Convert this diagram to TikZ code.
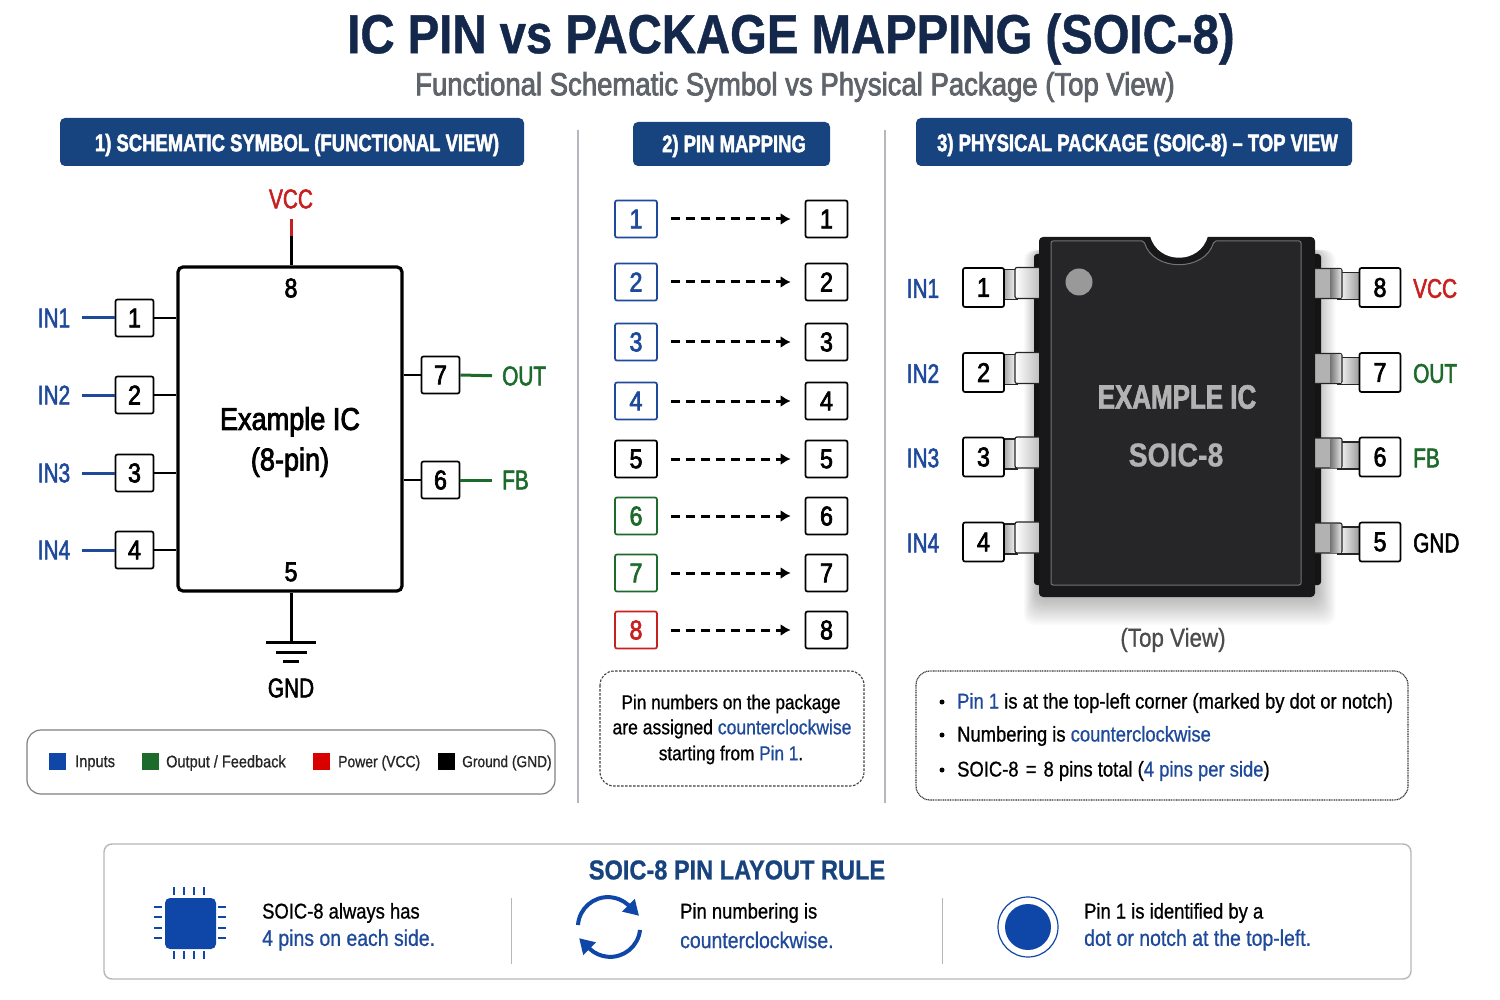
\documentclass[tikz,border=0pt]{standalone}
\usepackage{fontspec}
\setmainfont[FakeStretch=0.86,FakeBold=0.8]{Liberation Sans}
\newfontfamily\narrowf[FakeStretch=0.77,FakeBold=2]{Liberation Sans}
\newfontfamily\medf[FakeStretch=0.86,FakeBold=2.5]{Liberation Sans}
\usetikzlibrary{arrows.meta}
\definecolor{navy}{HTML}{14284B}
\definecolor{barblue}{HTML}{17437E}
\definecolor{subgray}{HTML}{5F646B}
\definecolor{inblue}{HTML}{1F4A9C}
\definecolor{iconblue}{HTML}{0F47A8}
\definecolor{outgreen}{HTML}{1D6B2B}
\definecolor{pwrred}{HTML}{C8201F}
\definecolor{rulegray}{HTML}{B4B8BC}
\definecolor{bodydark}{HTML}{18181A}
\definecolor{bodyface}{HTML}{262628}
\newcommand{\fs}[1]{\fontsize{#1}{#1}\selectfont}
\tikzset{
  txt/.style={inner sep=0pt, font=\fs{#1}},
  txt/.default=20,
  lbl/.style={inner sep=0pt, font=\narrowf\fs{#1}},
  lbl/.default=27,
  headbar/.style={fill=barblue, rounded corners=5pt, inner sep=0pt, minimum height=44pt},
  headtxt/.style={inner sep=0pt, text=white, font=\narrowf\fs{24}\bfseries},
  pinbox/.style={draw=black, line width=1.7pt, fill=white, rounded corners=2pt, minimum width=38pt, minimum height=37pt, inner sep=0pt, font=\medf\fs{27}},
  mapbox/.style={pinbox, minimum width=42pt, minimum height=37pt},
  lead/.style={line width=2pt, black},
  wire/.style={line width=3pt, #1},
  maparrow/.style={line width=3pt, black, dash pattern=on 9pt off 6pt, -{Latex[length=10pt,width=12pt]}},
  notebox/.style={rounded corners=14pt, line width=1pt},
  metal/.style={draw=black!85, line width=1.2pt},
  rule/.style={rulegray, line width=1.2pt}
}
\begin{document}
\begin{tikzpicture}[x=1pt,y=-1pt]
  \useasboundingbox (0,0) rectangle (1500,1000);
  \fill[white] (0,0) rectangle (1500,1000);
  % Titel
  \node[inner sep=0pt, text=navy, font=\fs{55}\bfseries] (title) at (791,39) {IC PIN vs PACKAGE MAPPING (SOIC-8)};
  \node[inner sep=0pt, text=subgray, font=\medf\fs{32}] (subtitle) at (795,87) {Functional Schematic Symbol vs Physical Package (Top View)};
  % Kopfzeilen
  \node[headbar, minimum width=464pt, minimum height=48pt] (head1) at (292,142) {};
  \node[headtxt] (head1txt) at (297,145) {1) SCHEMATIC SYMBOL (FUNCTIONAL VIEW)};
  \node[headbar, minimum width=197pt] (head2) at (731.5,144) {};
  \node[headtxt] (head2txt) at (734,146) {2) PIN MAPPING};
  \node[headbar, minimum width=436pt, minimum height=48pt] (head3) at (1134,142) {};
  \node[headtxt] (head3txt) at (1137.5,145) {3) PHYSICAL PACKAGE (SOIC-8) – TOP VIEW};
  \coordinate (div1a) at (578,130); \coordinate (div1b) at (578,803);
  \coordinate (div2a) at (885,130); \coordinate (div2b) at (885,803);
  \draw[rule] (div1a) -- (div1b);
  \draw[rule] (div2a) -- (div2b);

  % Schaltsymbol
  \node[draw=black, line width=3.2pt, rounded corners=5pt, minimum width=224pt, minimum height=324pt] (ic) at (290,429) {};
  \node[inner sep=0pt, align=center, font=\medf\fs{31.5}] (icname) at (290,442) {Example IC\\[9pt](8-pin)};
  \node[inner sep=0pt, font=\medf\fs{27}] (top8) at (291,288) {8};
  \node[inner sep=0pt, font=\medf\fs{27}] (bot5) at (291,572) {5};
  \foreach \n/\yy in {1/318,2/395,3/473,4/550} {
    \node[pinbox] (s\n) at (134.5,\yy) {\n};
    \node[lbl, text=inblue] (in\n) at (54,\yy) {IN\n};
    \draw[wire=inblue, shorten <=12pt] (in\n.east) -- (s\n.west);
    \draw[lead] (s\n.east) -- (s\n.east -| ic.west);
  }
  \node[pinbox] (s7) at (440.5,375) {7};
  \node[pinbox] (s6) at (440.5,480) {6};
  \node[lbl, text=outgreen, anchor=west] (lout) at (502,376) {OUT};
  \node[lbl, text=outgreen, anchor=west] (lfb) at (502,480) {FB};
  \draw[lead] (s7.west) -- (s7.west -| ic.east);
  \draw[lead] (s6.west) -- (s6.west -| ic.east);
  \draw[wire=outgreen, shorten >=10pt] (s7.east) -- (lout.west);
  \draw[wire=outgreen, shorten >=10pt] (s6.east) -- (lfb.west);
  \node[lbl, text=pwrred] (lvcc) at (291,199) {VCC};
  \coordinate (vccmid) at (291,236);
  \coordinate (vcctop) at (291,219);
  \draw[wire=pwrred] (vcctop) -- (vccmid);
  \draw[wire=black] (vccmid) -- (ic.north -| vccmid);
  % Masse
  \coordinate (gnd1) at (291,642);
  \draw[wire=black] (ic.south -| gnd1) -- (gnd1);
  \draw[line width=3pt] (266,642) -- (316,642);
  \draw[line width=3pt] (276,652) -- (307,652);
  \draw[line width=3pt] (283,661) -- (299,661);
  \node[lbl] (lgnd) at (291,688) {GND};

  % Legende
  \draw[notebox, draw=rulegray!70!black, line width=1.2pt] (27,730) rectangle (555,794);
  \foreach \xx/\tx/\col/\sz/\lab in {49/75/iconblue/17/Inputs,142/166/outgreen/16.9/{Output / Feedback},313/338/red!85!black/16.2/Power (VCC),438/462/black/16/Ground (GND)} {
    \fill[\col] (\xx,753) rectangle ++(17,17);
    \node[txt=\sz, anchor=west, text=black!85] at (\tx,763) {\lab};
  }

  % Zuordnung
  \foreach \n/\yy/\col in {1/219/inblue,2/282/inblue,3/342/inblue,4/401/inblue,5/459/black,6/516/outgreen,7/573/outgreen,8/630/pwrred} {
    \node[mapbox, draw=\col, text=\col] (ml\n) at (636,\yy) {\n};
    \node[mapbox] (mr\n) at (826.5,\yy) {\n};
    \draw[maparrow, shorten <=13pt, shorten >=14pt] (ml\n.east) -- (mr\n.west);
  }
  \draw[notebox, dash pattern=on 2.5pt off 1.5pt, line width=1.1pt, draw=black!75] (600,671) rectangle (864,786);
  \node[txt=20] (note1) at (731,704) {Pin numbers on the package};
  \node[txt=20.4] (note2) at (732,729) {are assigned \textcolor{inblue}{counterclockwise}};
  \node[txt=20] (note3) at (731,755) {starting from \textcolor{inblue}{Pin 1}.};

  % Gehaeuse, Schatten
  \foreach \d in {2,4,...,28}
    \fill[black, opacity=.02, rounded corners=10pt] (1038-\d*.5,250) rectangle (1316+\d*.7,597+\d);
  % Gehaeuse, Seitenleiste
  \fill[black!92, rounded corners=3pt] (1034,254) rectangle (1321,585);
  % Beinchen
  \foreach \n/\m/\yy in {1/8/287.5,2/7/372.5,3/6/457,4/5/542} {
    \draw[metal, left color=black!35, right color=white] (1004,\yy-18) rectangle (1017,\yy+12);
    \draw[metal, left color=white, right color=black!28, rounded corners=2pt] (1015,\yy-20) rectangle (1042,\yy+11);
    \draw[metal, left color=white, right color=black!40] (1338,\yy-15) rectangle (1360,\yy+12);
    \draw[metal, fill=black!30, rounded corners=2pt] (1312,\yy-19) rectangle (1342,\yy+11);
    \fill[left color=black!55, right color=black!12] (1330,\yy-18) rectangle (1341,\yy+10);
    \node[pinbox, minimum width=41pt, minimum height=39pt] (pl\n) at (983.5,\yy) {\n};
    \node[pinbox, minimum width=41pt, minimum height=39pt] (pr\m) at (1380,\yy) {\m};
    \node[lbl, text=inblue] (pin\n) at (923,\yy+1) {IN\n};
  }
  \node[lbl, text=pwrred, anchor=west] (pvcc) at (1413,288.5) {VCC};
  \node[lbl, text=outgreen, anchor=west] (pout) at (1413,373.5) {OUT};
  \node[lbl, text=outgreen, anchor=west] (pfb) at (1413,458) {FB};
  \node[lbl, anchor=west] (pgnd) at (1413,543) {GND};
  % Gehaeuse
  \fill[bodydark, rounded corners=4pt] (1039,237) rectangle (1315,597);
  \draw[black!55, fill=bodyface, line width=1pt, rounded corners=2pt] (1051,241) -- (1144,241) .. controls (1153,272) and (1205,272) .. (1214,241) -- (1301,241) -- (1301,585) -- (1051,585) -- cycle;
  \fill[white] (1150,236) .. controls (1158,265) and (1200,265) .. (1208,236) -- cycle;
  \fill[white] (1150,232) rectangle (1208,236.5);
  \fill[black!40] (1079,282) circle[radius=13.5pt];
  \node[inner sep=0pt, text=black!30, font=\narrowf\fs{33.7}\bfseries] (pkg1) at (1177,397) {EXAMPLE IC};
  \node[inner sep=0pt, text=black!30, font=\fs{33}\bfseries] (pkg2) at (1176,455) {SOIC-8};
  \node[txt=26, text=black!70] (topview) at (1173,640) {(Top View)};

  % Hinweise
  \draw[notebox, dash pattern=on 1pt off .7pt, line width=1.2pt, draw=black!80] (916,671) rectangle (1408,800);
  \foreach \yy/\lab in {702/{\textcolor{inblue}{Pin 1} is at the top-left corner (marked by dot or notch)},735/{Numbering is \textcolor{inblue}{counterclockwise}},770/{SOIC-8\,\,=\,\,8 pins total (\textcolor{inblue}{4 pins per side})}} {
    \fill[black] (942,\yy) circle[radius=2.5pt];
    \node[txt=21.4, anchor=west] at (957,\yy+1) {\lab};
  }

  % Regel
  \draw[rounded corners=8pt, draw=rulegray, line width=1.4pt] (104,844) rectangle (1411,979);
  \node[inner sep=0pt, text=barblue, font=\fs{27.4}\bfseries] (ruletitle) at (737,870) {SOIC-8 PIN LAYOUT RULE};
  \draw[rule, line width=.8pt] (511,898) -- (511,964);
  \draw[rule, line width=.8pt] (942,898) -- (942,964);
  % Chip
  \fill[iconblue, rounded corners=5pt] (165,898) rectangle (216,949);
  \foreach \k in {174,184,194,204} {
    \draw[iconblue, line width=2pt] (\k,887) -- (\k,895);
    \draw[iconblue, line width=2pt] (\k,951) -- (\k,959);
  }
  \foreach \k in {907,917,928,938} {
    \draw[iconblue, line width=2pt] (154,\k) -- (162,\k);
    \draw[iconblue, line width=2pt] (218,\k) -- (226,\k);
  }
  \node[txt=21.4, anchor=west] (r1a) at (262,913) {SOIC-8 always has};
  \node[txt=22.6, anchor=west, text=inblue] (r1b) at (262,940) {4 pins on each side.};
  % Pfeile
  \draw[iconblue, line width=4pt, -{Triangle[length=15pt,width=17pt]}] (578,925) arc[start angle=176, end angle=48, radius=30pt] -- ++(11,11);
  \draw[iconblue, line width=4pt, -{Triangle[length=15pt,width=17pt]}] (640,930) arc[start angle=-6, end angle=-132, radius=30pt] -- ++(-11,-11);
  \node[txt=21.4, anchor=west] (r2a) at (680,913) {Pin numbering is};
  \node[txt=22.6, anchor=west, text=inblue] (r2b) at (680,940) {counterclockwise.};
  % Punkt
  \draw[iconblue, line width=1.2pt] (1028,927) circle[radius=30pt];
  \fill[iconblue] (1028,927) circle[radius=23pt];
  \node[txt=21.4, anchor=west] (r3a) at (1084,913) {Pin 1 is identified by a};
  \node[txt=22.6, anchor=west, text=inblue] (r3b) at (1084,940) {dot or notch at the top-left.};
\end{tikzpicture}
\end{document}
